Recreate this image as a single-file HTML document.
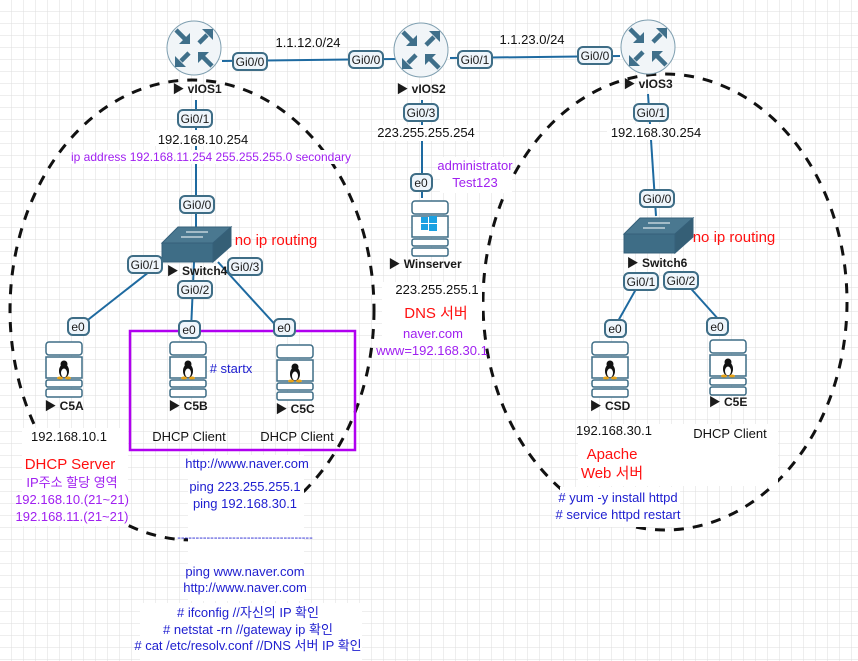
<!DOCTYPE html>
<html><head><meta charset="utf-8"><style>
html,body{margin:0;padding:0;width:858px;height:661px;overflow:hidden;background:#fff}
svg{display:block;font-size:12px;font-family:"Liberation Sans","Noto Sans CJK KR",sans-serif}
text{font-family:"Liberation Sans","Noto Sans CJK KR",sans-serif}
.lb{fill:#1a1a1a;text-anchor:middle}
</style></head><body>
<svg width="858" height="661" viewBox="0 0 858 661" xmlns="http://www.w3.org/2000/svg">
<defs>
<pattern id="grid" width="12" height="12" patternUnits="userSpaceOnUse">
<path d="M12 0V12M0 12H12" stroke="#dedede" stroke-width="1" fill="none"/>
</pattern>
<g id="arrow"><line x1="-17" y1="-17" x2="-8" y2="-8" stroke="#3f6f8a" stroke-width="4.5"/><polygon points="-3,-3 -3,-14 -14,-3" fill="#3f6f8a"/></g>
<g id="arrowout"><line x1="-4" y1="-4" x2="-12" y2="-12" stroke="#3f6f8a" stroke-width="4.5"/><polygon points="-18,-18 -18,-7 -7,-18" fill="#3f6f8a"/></g>
<g id="router">
<circle cx="0" cy="0" r="27" fill="#f1f5f8" stroke="#7f9fb0" stroke-width="1"/>
<use href="#arrow" x="-1" y="-1"/>
<use href="#arrowout" transform="rotate(90) translate(-1,-1)"/>
<use href="#arrowout" transform="rotate(-90) translate(-1,-1)"/>
<use href="#arrow" transform="rotate(180) translate(-1,-1)"/>
</g>
<g id="switch">
<polygon points="0,17 16,1 69,1 51,17" fill="#4a7890" stroke="#35607a"/>
<rect x="0" y="17" width="51" height="19" fill="#3e6d86" stroke="#35607a"/>
<polygon points="51,17 69,1 69,20 51,36" fill="#355f76" stroke="#35607a"/>
<g stroke="#fff" stroke-width="1"><line x1="24" y1="6" x2="46" y2="6"/><line x1="19" y1="11" x2="41" y2="11"/></g>
</g>
<g id="host">
<rect x="0" y="0" width="36" height="13" rx="3" fill="#fff" stroke="#3e6d86" stroke-width="1.5"/>
<rect x="0" y="15" width="36" height="21" fill="#fff" stroke="#3e6d86" stroke-width="1.5"/>
<rect x="0" y="38" width="36" height="7" rx="2" fill="#fff" stroke="#3e6d86" stroke-width="1.5"/>
<rect x="0" y="47" width="36" height="8" rx="2" fill="#fff" stroke="#3e6d86" stroke-width="1.5"/>
</g>
<g id="tux">
<ellipse cx="0" cy="3" rx="5" ry="7" fill="#111"/><ellipse cx="0" cy="5" rx="3" ry="4.5" fill="#fff"/>
<circle cx="0" cy="-4" r="3.5" fill="#111"/>
<ellipse cx="-4" cy="10" rx="3" ry="1.5" fill="#e8a317"/><ellipse cx="4" cy="10" rx="3" ry="1.5" fill="#e8a317"/>
</g>
</defs>
<rect width="858" height="661" fill="url(#grid)"/>

<g stroke="#1e6aa0" stroke-width="2" fill="none">
<line x1="222" y1="61" x2="397" y2="59"/>
<line x1="450" y1="58" x2="620" y2="56"/>
<line x1="196" y1="100" x2="196" y2="230"/>
<line x1="422" y1="100" x2="422" y2="198"/>
<line x1="648" y1="94" x2="656" y2="216"/>
<line x1="168" y1="257" x2="75" y2="330"/>
<line x1="194" y1="262" x2="191" y2="330"/>
<line x1="218" y1="262" x2="280" y2="330"/>
<line x1="640" y1="282" x2="613" y2="330"/>
<line x1="685" y1="282" x2="728" y2="330"/>
</g>

<g fill="none" stroke="#111" stroke-width="3" stroke-dasharray="10,9">
<ellipse cx="192" cy="310" rx="182" ry="230"/>
<ellipse cx="665" cy="302" rx="182" ry="228"/>
</g>
<g fill="#fff">
<rect x="70" y="150" width="282" height="14"/>
<rect x="150" y="130" width="92" height="16"/>
<rect x="378" y="125" width="98" height="16"/>
<rect x="440" y="157" width="72" height="36"/>
<rect x="382" y="282" width="100" height="76"/>
<rect x="22" y="428" width="106" height="98"/>
<rect x="188" y="455" width="116" height="146"/>
<rect x="140" y="603" width="222" height="58"/>
<rect x="560" y="487" width="120" height="40"/>
<rect x="578" y="424" width="200" height="62"/>
<rect x="607" y="124" width="90" height="16"/>
</g>

<rect x="130" y="331" width="225" height="119" fill="none" stroke="#b000f0" stroke-width="2.5"/>

<use href="#router" x="194" y="48"/>
<use href="#router" x="421" y="50"/>
<use href="#router" x="648" y="47"/>
<text x="197" y="93" class="lb" font-weight="bold">▶ vIOS1</text>
<text x="421" y="93" class="lb" font-weight="bold">▶ vIOS2</text>
<text x="648" y="88" class="lb" font-weight="bold">▶ vIOS3</text>

<use href="#switch" x="162" y="226"/>
<use href="#switch" x="624" y="217"/>
<text x="197" y="275" class="lb" font-weight="bold">▶ Switch4</text>
<text x="657" y="267" class="lb" font-weight="bold">▶ Switch6</text>

<use href="#host" x="46" y="342"/><use href="#tux" x="64" y="368"/>
<use href="#host" x="170" y="342"/><use href="#tux" x="188" y="368"/>
<use href="#host" x="277" y="345"/><use href="#tux" x="295" y="371"/>
<use href="#host" x="592" y="342"/><use href="#tux" x="610" y="368"/>
<use href="#host" x="710" y="340"/><use href="#tux" x="728" y="366"/>
<use href="#host" x="412" y="201"/>
<g fill="#1ba1e2"><rect x="421" y="217" width="7" height="6"/><rect x="429" y="216" width="8" height="7"/><rect x="421" y="224" width="7" height="6"/><rect x="429" y="224" width="8" height="7"/></g>
<text x="64" y="410" class="lb" font-weight="bold">▶ C5A</text>
<text x="188" y="410" class="lb" font-weight="bold">▶ C5B</text>
<text x="295" y="413" class="lb" font-weight="bold">▶ C5C</text>
<text x="610" y="410" class="lb" font-weight="bold">▶ CSD</text>
<text x="728" y="406" class="lb" font-weight="bold">▶ C5E</text>
<text x="425" y="268" class="lb" font-weight="bold">▶ Winserver</text>

<g font-size="12">
<g fill="#eef5fb" stroke="#3e6d86" stroke-width="2">
<rect x="233" y="53" width="34" height="17" rx="5"/>
<rect x="349" y="51" width="34" height="17" rx="5"/>
<rect x="458" y="51" width="34" height="17" rx="5"/>
<rect x="578" y="47" width="34" height="17" rx="5"/>
<rect x="178" y="110" width="34" height="17" rx="5"/>
<rect x="404" y="104" width="34" height="17" rx="5"/>
<rect x="634" y="104" width="34" height="17" rx="5"/>
<rect x="180" y="196" width="34" height="17" rx="5"/>
<rect x="640" y="190" width="34" height="17" rx="5"/>
<rect x="128" y="256" width="34" height="17" rx="5"/>
<rect x="228" y="258" width="34" height="17" rx="5"/>
<rect x="178" y="281" width="34" height="17" rx="5"/>
<rect x="624" y="273" width="34" height="17" rx="5"/>
<rect x="664" y="272" width="34" height="17" rx="5"/>
<rect x="68" y="318" width="21" height="17" rx="5"/>
<rect x="179" y="321" width="21" height="17" rx="5"/>
<rect x="274" y="319" width="21" height="17" rx="5"/>
<rect x="411" y="174" width="21" height="17" rx="5"/>
<rect x="605" y="320" width="21" height="17" rx="5"/>
<rect x="707" y="318" width="21" height="17" rx="5"/>
</g>
<g fill="#1a1a1a" text-anchor="middle">
<text x="250" y="66">Gi0/0</text><text x="366" y="64">Gi0/0</text><text x="475" y="64">Gi0/1</text><text x="595" y="60">Gi0/0</text>
<text x="195" y="123">Gi0/1</text><text x="421" y="117">Gi0/3</text><text x="651" y="117">Gi0/1</text>
<text x="197" y="209">Gi0/0</text><text x="657" y="203">Gi0/0</text>
<text x="145" y="269">Gi0/1</text><text x="245" y="271">Gi0/3</text><text x="195" y="294">Gi0/2</text>
<text x="641" y="286">Gi0/1</text><text x="681" y="285">Gi0/2</text>
<text x="78" y="331">e0</text><text x="189" y="334">e0</text><text x="284" y="332">e0</text><text x="421" y="187">e0</text>
<text x="615" y="333">e0</text><text x="717" y="331">e0</text>
</g></g>

<g text-anchor="middle" font-size="13">
<text x="308" y="47" fill="#111">1.1.12.0/24</text>
<text x="532" y="44" fill="#111">1.1.23.0/24</text>
<text x="203" y="144" fill="#111">192.168.10.254</text>
<text x="211" y="161" fill="#a020f0" font-size="12">ip address 192.168.11.254 255.255.255.0 secondary</text>
<text x="426" y="137" fill="#111">223.255.255.254</text>
<text x="475" y="170" fill="#a020f0">administrator</text>
<text x="475" y="187" fill="#a020f0">Test123</text>
<text x="656" y="137" fill="#111">192.168.30.254</text>
<text x="276" y="245" fill="#ff1010" font-size="15">no ip routing</text>
<text x="734" y="242" fill="#ff1010" font-size="15">no ip routing</text>
<text x="437" y="294" fill="#111">223.255.255.1</text>
<text x="436" y="318" fill="#ff1010" font-size="15">DNS 서버</text>
<text x="433" y="338" fill="#a020f0">naver.com</text>
<text x="432" y="355" fill="#a020f0">www=192.168.30.1</text>
<text x="231" y="373" fill="#2020d0">#  startx</text>
<text x="69" y="441" fill="#111">192.168.10.1</text>
<text x="189" y="441" fill="#111">DHCP Client</text>
<text x="297" y="441" fill="#111">DHCP Client</text>
<text x="70" y="469" fill="#ff1010" font-size="15">DHCP Server</text>
<text x="72" y="487" fill="#a020f0">IP주소 할당 영역</text>
<text x="72" y="504" fill="#a020f0">192.168.10.(21~21)</text>
<text x="72" y="521" fill="#a020f0">192.168.11.(21~21)</text>
<text x="247" y="468" fill="#2020d0">http://www.naver.com</text>
<text x="245" y="491" fill="#2020d0">ping 223.255.255.1</text>
<text x="245" y="508" fill="#2020d0">ping 192.168.30.1</text>
<text x="245" y="541" fill="#2020d0" font-size="11">-------------------------------------</text>
<text x="245" y="576" fill="#2020d0">ping www.naver.com</text>
<text x="245" y="592" fill="#2020d0">http://www.naver.com</text>
<text x="248" y="617" fill="#2020d0">#  ifconfig  //자신의 IP 확인</text>
<text x="248" y="634" fill="#2020d0">#  netstat -rn  //gateway ip 확인</text>
<text x="248" y="650" fill="#2020d0">#  cat /etc/resolv.conf   //DNS 서버 IP 확인</text>
<text x="614" y="435" fill="#111">192.168.30.1</text>
<text x="730" y="438" fill="#111">DHCP Client</text>
<text x="612" y="459" fill="#ff1010" font-size="15">Apache</text>
<text x="612" y="478" fill="#ff1010" font-size="15">Web 서버</text>
<text x="618" y="502" fill="#2020d0">#  yum -y install httpd</text>
<text x="618" y="519" fill="#2020d0">#  service httpd restart</text>
</g>
</svg>
</body></html>
